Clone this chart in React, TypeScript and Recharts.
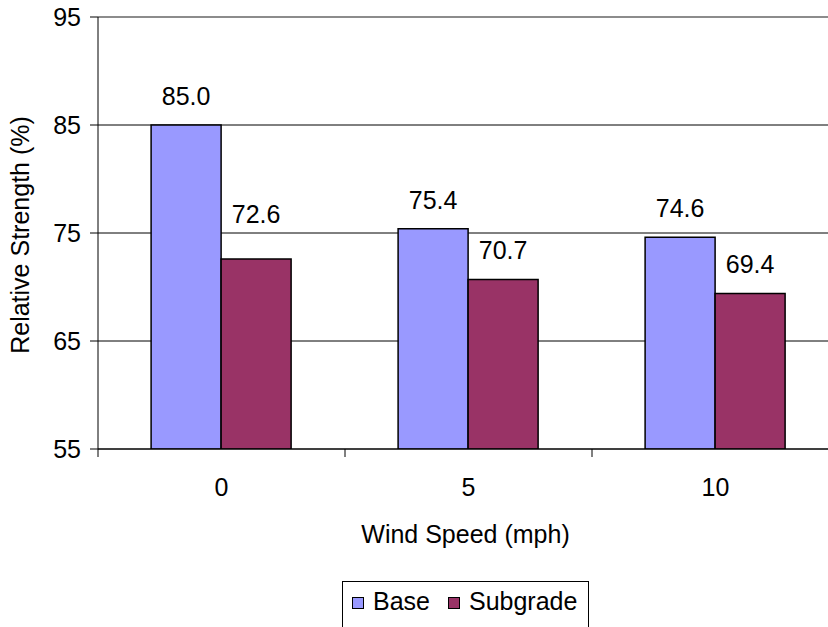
import React from 'react'
import {
  BarChart,
  Bar,
  XAxis,
  YAxis,
  CartesianGrid,
  Legend,
  LabelList,
  ReferenceLine,
} from 'recharts'

const windSpeeds = ['0', '5', '10']
const baseStrength = [85.0, 75.4, 74.6]
const subgradeStrength = [72.6, 70.7, 69.4]
const yTicks = [55, 65, 75, 85, 95]

const FONT = '"Liberation Sans", Arial, Helvetica, sans-serif'
const FONT_SIZE = 25
const BASE_COLOR = '#9999FF'
const SUBGRADE_COLOR = '#993366'

// the plot runs a little past the right edge of the frame, which clips it
const FRAME_W = 828
const FRAME_H = 627
const CHART_W = 850
const CHART_H = 635
const MARGIN = { top: 17, right: 11, left: 0, bottom: 0 }
const Y_AXIS_W = 98
const X_AXIS_H = 132
const LEGEND_W = 247
const LEGEND_H = 54
const LEGEND_LEFT = 342
const TICK_SIZE = 8
const X_TICK_MARGIN = 21
const LABEL_GAP = 20

const PLOT_TOP = MARGIN.top
const PLOT_H = CHART_H - MARGIN.top - MARGIN.bottom - X_AXIS_H - LEGEND_H
const PLOT_W = CHART_W - MARGIN.left - Y_AXIS_W - MARGIN.right
const BAND = PLOT_W / windSpeeds.length

const chartData = windSpeeds.map((speed, i) => ({
  speed,
  base: baseStrength[i],
  subgrade: subgradeStrength[i],
}))

const yMin = yTicks[0]
const yMax = yTicks[yTicks.length - 1]
const yToPx = (v: number) => PLOT_TOP + ((yMax - v) / (yMax - yMin)) * PLOT_H

// value above the bar; nudged up when a gridline would cut through the text
function ValueLabel(props: any) {
  const box = props.viewBox ?? props
  const { x, y, width } = box
  const cap = FONT_SIZE * 0.72
  let baseline = y - LABEL_GAP
  for (const t of yTicks) {
    const g = yToPx(t)
    if (g > baseline - cap - 2 && g < baseline + 2) baseline = g - 10
  }
  return (
    <text
      x={x + width / 2}
      y={baseline}
      textAnchor="middle"
      fontFamily={FONT}
      fontSize={FONT_SIZE}
      fill="#000"
    >
      {Number(props.value).toFixed(1)}
    </text>
  )
}

// category label with tick marks on the band edges
function SpeedTick(props: any) {
  const { x, y, payload, index } = props
  const axisY = y - TICK_SIZE - X_TICK_MARGIN
  const left = x - BAND / 2
  const right = x + BAND / 2
  return (
    <g>
      <line x1={left} y1={axisY} x2={left} y2={axisY + TICK_SIZE} stroke="#000" />
      {index === windSpeeds.length - 1 && (
        <line x1={right} y1={axisY} x2={right} y2={axisY + TICK_SIZE} stroke="#000" />
      )}
      <text
        x={x}
        y={y}
        dy="0.71em"
        textAnchor="middle"
        fontFamily={FONT}
        fontSize={FONT_SIZE}
        fill="#000"
      >
        {payload.value}
      </text>
    </g>
  )
}

function XTitle(props: any) {
  const { x, y, width } = props.viewBox
  return (
    <text
      x={x + width / 2 - 3}
      y={y + 94}
      textAnchor="middle"
      fontFamily={FONT}
      fontSize={FONT_SIZE}
      fill="#000"
    >
      Wind Speed (mph)
    </text>
  )
}

function YTitle(props: any) {
  const { y, height } = props.viewBox
  const cx = 29
  const cy = y + height / 2 + 2
  return (
    <text
      x={cx}
      y={cy}
      transform={`rotate(-90, ${cx}, ${cy})`}
      textAnchor="middle"
      fontFamily={FONT}
      fontSize={FONT_SIZE}
      fill="#000"
    >
      Relative Strength (%)
    </text>
  )
}

function LegendBox(props: any) {
  const entries = props.payload ?? []
  return (
    <div
      style={{
        boxSizing: 'border-box',
        width: LEGEND_W,
        height: LEGEND_H,
        border: '1px solid #000',
        background: '#fff',
        display: 'flex',
        alignItems: 'flex-start',
        paddingTop: 5,
        paddingLeft: 9,
        fontFamily: FONT,
        fontSize: FONT_SIZE,
        lineHeight: '29px',
        color: '#000',
      }}
    >
      {entries.map((entry: any, i: number) => (
        <div key={i} style={{ display: 'flex', alignItems: 'flex-start', marginLeft: i === 0 ? 0 : 18 }}>
          <span
            style={{
              boxSizing: 'border-box',
              width: 12,
              height: 12,
              marginTop: 10,
              marginRight: 9,
              background: entry.color,
              border: '1px solid #000',
            }}
          />
          <span>{entry.value}</span>
        </div>
      ))}
    </div>
  )
}

export default function App() {
  return (
    <div
      style={{
        position: 'absolute',
        left: 0,
        top: 0,
        width: FRAME_W,
        height: FRAME_H,
        overflow: 'hidden',
        background: '#fff',
      }}
    >
      <BarChart
        width={CHART_W}
        height={CHART_H}
        data={chartData}
        margin={MARGIN}
        barCategoryGap="21.5%"
        barGap={0}
      >
        <CartesianGrid vertical={false} stroke="#000" />
        <XAxis
          dataKey="speed"
          height={X_AXIS_H}
          axisLine={{ stroke: '#000' }}
          tickLine={false}
          tickSize={TICK_SIZE}
          tickMargin={X_TICK_MARGIN}
          tick={<SpeedTick />}
          interval={0}
          label={<XTitle />}
        />
        <YAxis
          width={Y_AXIS_W}
          domain={[yMin, yMax]}
          ticks={yTicks}
          allowDataOverflow
          axisLine={{ stroke: '#000' }}
          tickLine={{ stroke: '#000' }}
          tickSize={TICK_SIZE}
          tickMargin={9}
          tick={{ fill: '#000', fontSize: FONT_SIZE, fontFamily: FONT }}
          label={<YTitle />}
        />
        <ReferenceLine y={yMax} stroke="#8c8c8c" strokeWidth={2} />
        <Legend
          verticalAlign="bottom"
          width={LEGEND_W}
          height={LEGEND_H}
          wrapperStyle={{ left: LEGEND_LEFT }}
          content={<LegendBox />}
        />
        <Bar
          dataKey="base"
          name="Base"
          fill={BASE_COLOR}
          stroke="#000"
          strokeWidth={1.5}
          isAnimationActive={false}
        >
          <LabelList dataKey="base" content={<ValueLabel />} />
        </Bar>
        <Bar
          dataKey="subgrade"
          name="Subgrade"
          fill={SUBGRADE_COLOR}
          stroke="#000"
          strokeWidth={1.5}
          isAnimationActive={false}
        >
          <LabelList dataKey="subgrade" content={<ValueLabel />} />
        </Bar>
      </BarChart>
    </div>
  )
}
